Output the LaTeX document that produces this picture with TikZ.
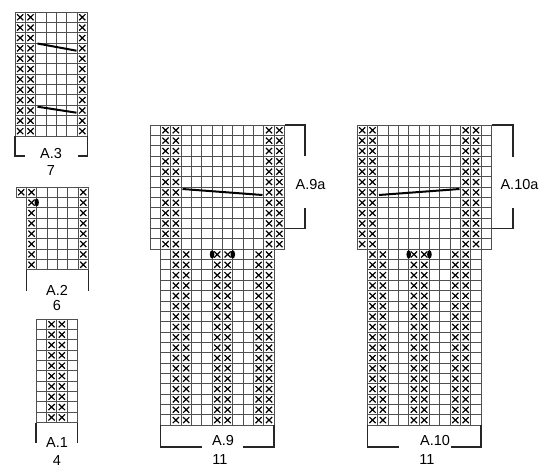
\documentclass[tikz,border=0pt]{standalone}
\usepackage{fontspec}
\setmainfont{Liberation Sans}
\definecolor{gridc}{RGB}{80,80,80}
\def\cw{10.35}
\newcommand\kgrid[4]{%
 \foreach \ii in {0,...,#3}{\draw[gl] ({#1+\ii*\cw},{#2}) -- ({#1+\ii*\cw},{#2+#4*\cw});}%
 \foreach \jj in {0,...,#4}{\draw[gl] ({#1},{#2+\jj*\cw}) -- ({#1+#3*\cw},{#2+\jj*\cw});}%
}
\newcommand\kx[2]{\draw[xm] ({#1+0.2*\cw},{#2+0.22*\cw}) -- ({#1+0.8*\cw},{#2+0.8*\cw}) ({#1+0.8*\cw},{#2+0.22*\cw}) -- ({#1+0.2*\cw},{#2+0.8*\cw});}
\newcommand\kxcol[4]{\foreach \rr in {0,...,#4}{\kx{#1+(#3-1)*\cw}{#2+\rr*\cw}}}
\begin{document}
\begin{tikzpicture}[x=1pt,y=-1pt,
  gl/.style={draw=gridc,line width=0.9pt},
  xm/.style={draw=black,line width=1.2pt},
  br/.style={draw=black!85,line width=1.6pt,line join=miter},
  slant/.style={draw=black,line width=2pt},
  dotm/.style={fill=black},
  lbl/.style={inner sep=0pt,font=\fontsize{14.5}{16}\selectfont}]
\useasboundingbox (0,0) rectangle (550,472);

% ---------- A.3 ----------
\kgrid{15}{12}{7}{12}
\foreach \cc in {1,2,7}{\kxcol{15}{12}{\cc}{11}}
\draw[slant] (37.5,43.5) -- (76.5,50.7);
\draw[slant] (37.5,106.7) -- (76.5,112.7);
\draw[br] (15,136.2) -- (15,156) -- (25,156);
\draw[br] (87.45,136.2) -- (87.45,156) -- (77.5,156);
\node[lbl] (a3) at (51,153.7) {A.3};
\node[lbl] (n7) at (51,170.3) {7};

% ---------- A.2 ----------
\kgrid{16}{187}{7}{1}
\kx{16}{187}\kx{26.35}{187}\kx{78.1}{187}
\kgrid{26.35}{197.35}{6}{7}
\foreach \cc in {1,6}{\kxcol{26.35}{197.35}{\cc}{6}}
\fill[dotm] (36.7,202.5) ellipse [x radius=2.2pt, y radius=4pt];
\draw[br] (26.35,269.8) -- (26.35,291);
\draw[br] (88.45,269.8) -- (88.45,291);
\node[lbl] (a2) at (57,290) {A.2};
\node[lbl] (n6) at (57,305.7) {6};

% ---------- A.1 ----------
\kgrid{36}{319}{4}{10}
\foreach \cc in {2,3}{\kxcol{36}{319}{\cc}{9}}
\draw[br] (36,422.5) -- (36,443);
\draw[br] (77.4,422.5) -- (77.4,443);
\node[lbl] (a1) at (57,443) {A.1};
\node[lbl] (n4) at (57,461) {4};

% ---------- A.9 ----------
\kgrid{150}{125}{13}{12}
\foreach \cc in {2,3,12,13}{\kxcol{150}{125}{\cc}{11}}
\kgrid{160.35}{249.2}{11}{17}
\foreach \cc in {2,3,6,7,10,11}{\kxcol{160.35}{249.2}{\cc}{16}}
\draw[slant] (182.5,189) -- (262.5,195);
\fill[dotm] (212.1,254.4) ellipse [x radius=2.3pt, y radius=4.2pt];
\fill[dotm] (232.8,254.4) ellipse [x radius=2.3pt, y radius=4.2pt];
\draw[br] (284.6,125) -- (305,125) -- (305,156);
\draw[br] (305,208) -- (305,228.5) -- (284.6,228.5);
\node[lbl] (a9a) at (310.5,185) {A.9a};
\draw[br] (160.35,425.2) -- (160.35,446.7) -- (202,446.7);
\draw[br] (274.2,425.2) -- (274.2,446.7) -- (243,446.7);
\node[lbl] (a9) at (223,441) {A.9};
\node[lbl] (n11a) at (220,459.5) {11};

% ---------- A.10 ----------
\kgrid{357}{125}{13}{12}
\foreach \cc in {1,2,11,12}{\kxcol{357}{125}{\cc}{11}}
\kgrid{367.35}{249.2}{11}{17}
\foreach \cc in {1,2,5,6,9,10}{\kxcol{367.35}{249.2}{\cc}{16}}
\draw[slant] (379,195) -- (459.5,189);
\fill[dotm] (408.75,254.4) ellipse [x radius=2.3pt, y radius=4.2pt];
\fill[dotm] (429.45,254.4) ellipse [x radius=2.3pt, y radius=4.2pt];
\draw[br] (491.55,125) -- (513,125) -- (513,157);
\draw[br] (513,208) -- (513,228.5) -- (491.55,228.5);
\node[lbl] (a10a) at (519.5,185) {A.10a};
\draw[br] (367.35,425.2) -- (367.35,446.7) -- (399,446.7);
\draw[br] (481.2,425.2) -- (481.2,446.7) -- (451,446.7);
\node[lbl] (a10) at (435,441) {A.10};
\node[lbl] (n11b) at (427,459.5) {11};
\end{tikzpicture}
\end{document}
